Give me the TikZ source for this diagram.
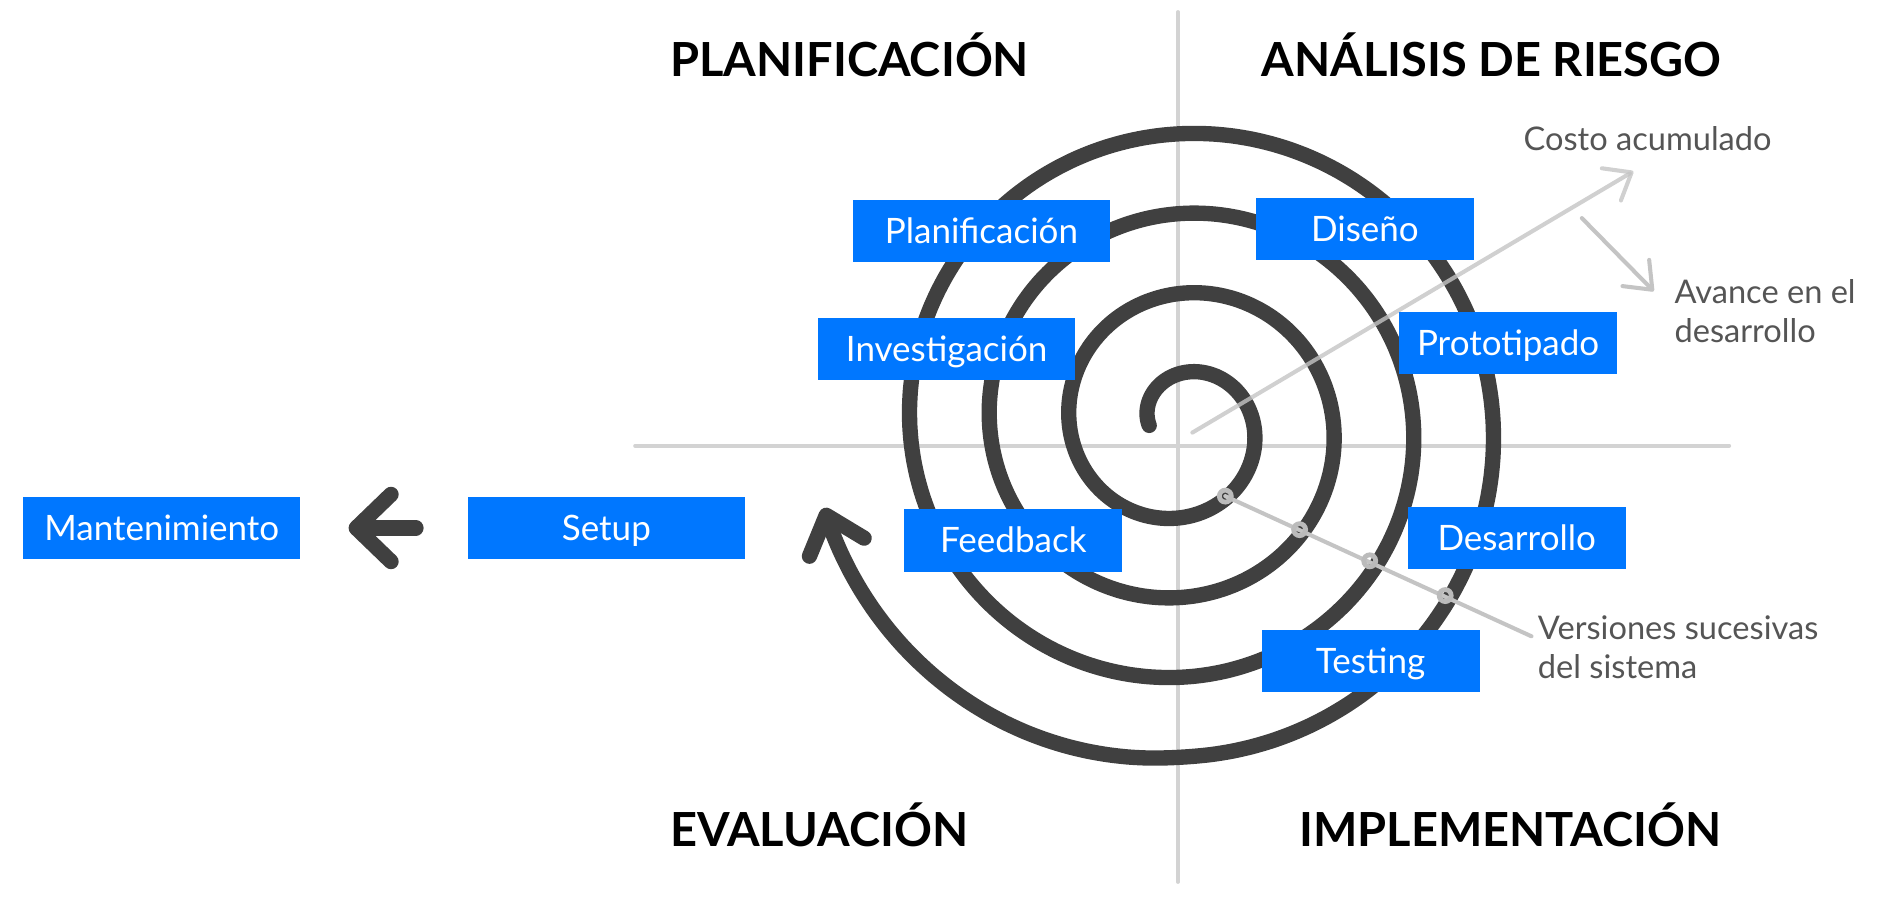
\documentclass[tikz,border=0pt]{standalone}
\usepackage{fontspec}
\setmainfont{Lato}
\usetikzlibrary{arrows.meta}
\definecolor{boxblue}{HTML}{0077FF}
\definecolor{spiralgray}{HTML}{404040}
\definecolor{notegray}{HTML}{555555}
\definecolor{axisgray}{HTML}{D3D3D3}
\definecolor{guidegray}{HTML}{C4C4C4}
\definecolor{ringgray}{HTML}{BBBBBB}
\tikzset{%
  stage/.style     = {shape=rectangle, fill=boxblue, text=white,%
                      minimum width=91pt, minimum height=26pt,%
                      text height=10.4pt, text depth=0pt,%
                      font=\fontsize{14.6}{17}\selectfont},%
  widestage/.style = {stage, minimum width=107pt},%
  outstage/.style  = {stage, minimum width=115.5pt},%
  quadrant/.style  = {font=\bfseries\fontsize{19.6}{23}\selectfont},%
  note/.style      = {text=notegray, align=left,%
                      font=\fontsize{13.6}{16.3}\selectfont},%
  version/.style   = {draw=ringgray, line width=2pt}%
}
\begin{document}
\begin{tikzpicture}[x=0.5pt,y=-0.5pt,
	every node/.style = {inner sep=0pt},
	axis/.style   = {draw=axisgray, line width=1.6pt, line cap=round},
	guide/.style  = {draw=guidegray, line width=1.7pt, line cap=round,
	                 -{Straight Barb[length=9.8pt, width=15.6pt, round]}},
	spiral/.style = {draw=spiralgray, line width=6.4pt, line cap=round,
	                 -{Straight Barb[length=14pt, width=24pt, round]}}]
	\useasboundingbox (0,0) rectangle (1568,748);
	\draw [axis] (983,10) -- (983,736);
	\draw [axis] (530,372) -- (1443,372);
	\draw [spiral] plot [domain=0:1427, samples=400, smooth, variable=\t]
		({986-(27+0.185*\t+0.2*max(0,\t-1350))*cos(\t)},
		 {355-(27+0.185*\t+0.2*max(0,\t-1350))*sin(\t)});
	\coordinate (base) at (995,361);
	\coordinate (costotip) at (1363,143);
	\coordinate (avancestart) at (1320,182);
	\coordinate (avancetip) at (1380,243);
	\draw [guide, opacity=0.8] (base) -- (costotip);
	\draw [guide] (avancestart) -- (avancetip);
	\coordinate (v1) at (1022.5,414);
	\coordinate (v2) at (1084.5,442);
	\coordinate (v3) at (1143,468);
	\coordinate (v4) at (1206,497);
	\coordinate (verend) at (1278,531);
	\draw [draw=guidegray, line width=1.7pt, line cap=round] (v1) -- (verend);
	\foreach \v in {v1,v2,v3,v4}
		\draw [version] (\v) circle [radius=2.5pt];
	\node [note, anchor=base west] (costo) at (1271,125.7) {Costo acumulado};
	\node [note, anchor=base west] (avance) at (1397,286) {Avance en el\\desarrollo};
	\node [note, anchor=base west] (versiones) at (1283,566) {Versiones sucesivas\\del sistema};
	\node [quadrant, anchor=base west] (planq) at (559,64) {PLANIFICACIÓN};
	\node [quadrant, anchor=base east] (riesgoq) at (1437,64) {ANÁLISIS DE RIESGO};
	\node [quadrant, anchor=base west] (evalq) at (559,706) {EVALUACIÓN};
	\node [quadrant, anchor=base east] (implq) at (1437,706) {IMPLEMENTACIÓN};
	\node [widestage] (plan) at (819,193) {Planificación};
	\node [stage] (diseno) at (1139,191) {Diseño};
	\node [widestage] (invest) at (790,291.5) {Investigación};
	\node [stage] (proto) at (1258.5,286) {Prototipado};
	\node [stage] (feedback) at (845.6,451) {Feedback};
	\node [stage] (desarrollo) at (1265.7,449) {Desarrollo};
	\node [stage] (testing) at (1143.7,551.7) {Testing};
	\node [outstage] (setup) at (506,440.6) {Setup};
	\node [outstage] (mant) at (135,440.6) {Mantenimiento};
	\draw [spiralgray, line width=6.4pt, line cap=round,
		-{Straight Barb[length=14.5pt, width=28pt, round]},
		shorten <=21.5pt, shorten >=20pt] (setup) -- (mant);
\end{tikzpicture}
\end{document}
